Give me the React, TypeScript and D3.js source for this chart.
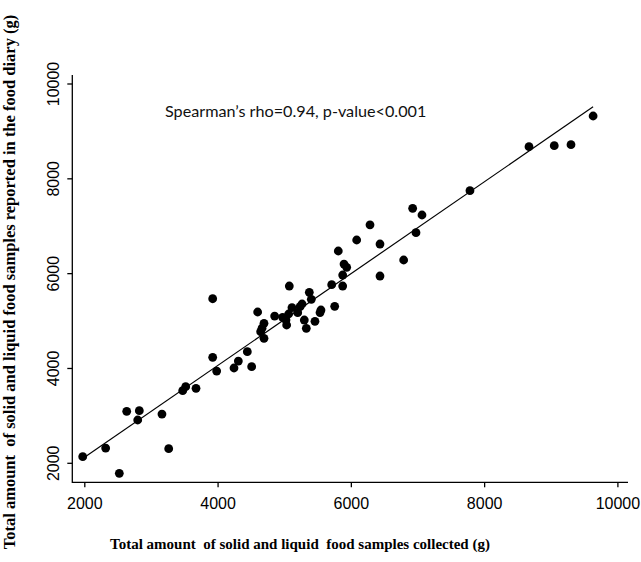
import { useEffect, useRef } from 'react';
import * as d3 from 'd3';

// amounts in grams
const collected = [
  1969, 2313, 2518, 2629, 2818, 2794, 3158, 3259, 3469, 3514, 3669,
  3919, 3919, 3979, 4239, 4304, 4439, 4504, 4594, 4689, 4639, 4660, 4689,
  4849, 4969, 5029, 5019, 5069, 5059, 5109, 5195, 5230, 5260, 5294, 5324,
  5369, 5399, 5454, 5544, 5530, 5705, 5750, 5804, 5870, 5870, 5890, 5930,
  6080, 6280, 6430, 6430, 6785, 6920, 7060, 6970, 7780, 8666, 9045, 9296, 9628,
];
const reported = [
  2139, 2322, 1789, 3096, 3109, 2913, 3039, 2308, 3531, 3615, 3582,
  5471, 4235, 3946, 4010, 4157, 4354, 4037, 5191, 4953, 4775, 4850, 4635,
  5106, 5079, 4917, 5022, 5739, 5149, 5282, 5176, 5303, 5360, 5022, 4847,
  5606, 5459, 4995, 5233, 5180, 5767, 5311, 6478, 5971, 5739, 6203, 6133,
  6710, 7030, 6625, 5950, 6288, 7378, 7237, 6864, 7750, 8678, 8699, 8720, 9325,
];
const xTicks = [2000, 4000, 6000, 8000, 10000];
const yTicks = [2000, 4000, 6000, 8000, 10000];

const xTitle = 'Total amount  of solid and liquid  food samples collected (g)';
const yTitle = 'Total amount  of solid and liquid food samples reported in the food diary (g)';
const note = 'Spearman\u2019s rho=0.94, p-value<0.001';

function App() {
  const svgRef = useRef<SVGSVGElement | null>(null);

  useEffect(() => {
    if (!svgRef.current) return;
    const svg = d3.select(svgRef.current);
    svg.selectAll('*').remove();

    const left = 72.3, bottom = 482.3, top = 75, right = 628;

    const x = d3.scaleLinear().domain([2000, 10000]).range([84.8, 617.9]);
    const y = d3.scaleLinear().domain([2000, 10000]).range([463.3, 84]);

    // axes (L shaped box)
    svg.append('path')
      .attr('d', `M${left},${top}V${bottom}H${right}`)
      .attr('fill', 'none')
      .attr('stroke', '#000')
      .attr('stroke-width', 1.3);

    svg.append('g').selectAll('line').data(xTicks).join('line')
      .attr('x1', d => x(d)).attr('x2', d => x(d))
      .attr('y1', bottom).attr('y2', bottom + 5)
      .attr('stroke', '#000').attr('stroke-width', 1.3);

    svg.append('g').selectAll('text').data(xTicks).join('text')
      .attr('x', d => x(d))
      .attr('y', 509)
      .attr('text-anchor', 'middle')
      .attr('font-family', '"Liberation Sans", Arial, sans-serif')
      .attr('font-size', 16)
      .text(d => String(d));

    svg.append('g').selectAll('line').data(yTicks).join('line')
      .attr('x1', left - 5).attr('x2', left)
      .attr('y1', d => y(d)).attr('y2', d => y(d))
      .attr('stroke', '#000').attr('stroke-width', 1.3);

    svg.append('g').selectAll('text').data(yTicks).join('text')
      .attr('transform', d => `translate(59,${y(d)}) rotate(-90)`)
      .attr('text-anchor', 'middle')
      .attr('font-family', '"Liberation Sans", Arial, sans-serif')
      .attr('font-size', 16)
      .text(d => String(d));

    // least squares fit, drawn over the range of the data
    const mx = d3.mean(collected) as number;
    const my = d3.mean(reported) as number;
    const sxy = d3.sum(collected, (c, i) => (c - mx) * (reported[i] - my));
    const sxx = d3.sum(collected, c => (c - mx) * (c - mx));
    const slope = sxy / sxx;
    const icpt = my - slope * mx;
    const ext = d3.extent(collected) as [number, number];

    svg.append('line')
      .attr('x1', x(ext[0])).attr('y1', y(icpt + slope * ext[0]))
      .attr('x2', x(ext[1])).attr('y2', y(icpt + slope * ext[1]))
      .attr('stroke', '#000')
      .attr('stroke-width', 1.2);

    svg.append('g').selectAll('circle').data(collected).join('circle')
      .attr('cx', d => x(d))
      .attr('cy', (d, i) => y(reported[i]))
      .attr('r', 4.4)
      .attr('fill', '#000');

    svg.append('text')
      .attr('x', 165)
      .attr('y', 117)
      .attr('font-family', 'Lato, "Open Sans", sans-serif')
      .attr('font-size', 16.2)
      .attr('fill', '#111')
      .text(note);

    svg.append('text')
      .attr('x', 300)
      .attr('y', 549)
      .attr('text-anchor', 'middle')
      .attr('font-family', '"Liberation Serif", "Times New Roman", serif')
      .attr('font-weight', 'bold')
      .attr('font-size', 15)
      .style('white-space', 'pre')
      .text(xTitle);

    svg.append('text')
      .attr('transform', 'translate(15,282) rotate(-90)')
      .attr('text-anchor', 'middle')
      .attr('font-family', '"Liberation Serif", "Times New Roman", serif')
      .attr('font-weight', 'bold')
      .attr('font-size', 16.5)
      .style('white-space', 'pre')
      .text(yTitle);
  }, []);

  return (
    <svg
      ref={svgRef}
      width={641}
      height={562}
      style={{ position: 'absolute', left: 0, top: 0, background: '#fff' }}
    />
  );
}

export default App;
